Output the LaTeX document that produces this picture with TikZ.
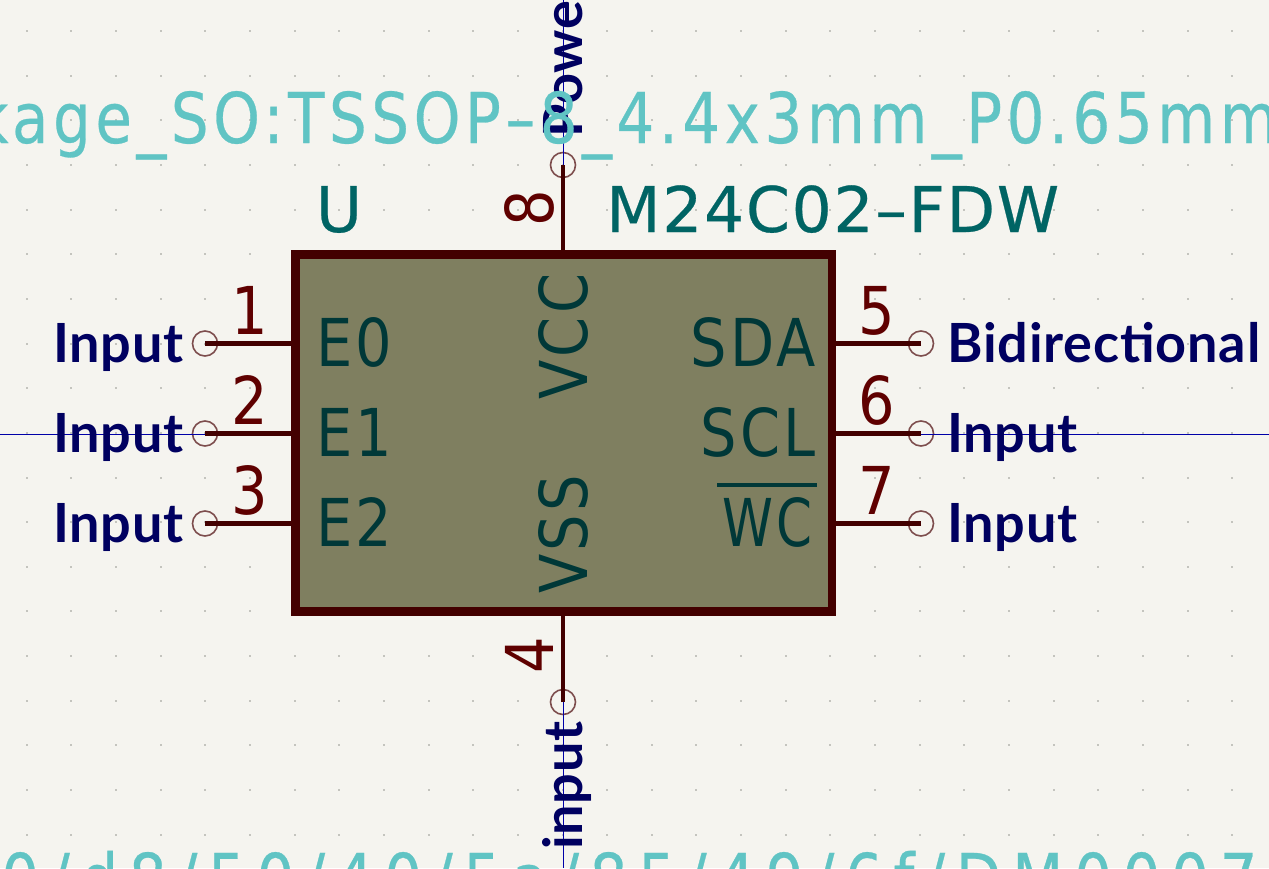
\documentclass[tikz,border=0pt]{standalone}
\usepackage{fontspec}
\setmainfont{DejaVu Sans}
\newfontfamily\pinfont[FakeStretch=0.87]{DejaVu Sans}
\newfontfamily\namefont[FakeStretch=0.87,LetterSpace=5]{DejaVu Sans}
\newfontfamily\barfont[FakeStretch=0.78,LetterSpace=5]{DejaVu Sans}
\newfontfamily\valfont[LetterSpace=2.8,FakeBold=0.4]{DejaVu Sans}
\newfontfamily\fpfont[LetterSpace=6.5,FakeStretch=0.85,FakeBold=0.4]{DejaVu Sans}
\newfontfamily\docfont[LetterSpace=15.2,FakeStretch=0.85,FakeBold=0.4]{DejaVu Sans}
\newfontfamily\netfont[LetterSpace=1.5]{Lato Bold}
\usetikzlibrary{positioning}
\definecolor{sheetbg}{HTML}{F5F4EF}
\definecolor{griddot}{HTML}{C4C4BE}
\definecolor{bodyfill}{HTML}{7F7F60}
\definecolor{bodyline}{HTML}{430000}
\definecolor{pinnum}{HTML}{5F0000}
\definecolor{pinname}{HTML}{003838}
\definecolor{partval}{HTML}{006464}
\definecolor{fptext}{HTML}{60C4C4}
\definecolor{netlabel}{HTML}{000060}
\definecolor{netwire}{HTML}{0000A8}
\definecolor{pinring}{HTML}{7D4D4D}
\tikzset{
  chip/.style={draw=bodyline,fill=bodyfill,line width=8.7pt,outer sep=0pt,minimum width=536.5pt,minimum height=357pt,inner sep=0pt},
  pinend/.style={circle,draw=pinring,line width=1.6pt,outer sep=0pt,minimum size=25pt,inner sep=0pt},
  pinline/.style={draw=bodyline,line width=4.6pt},
  netline/.style={draw=netwire,line width=1.2pt},
  numtext/.style={text=pinnum,inner sep=0pt,font=\pinfont\fontsize{66}{66}\selectfont},
  nametext/.style={text=pinname,inner sep=0pt,font=\namefont\fontsize{66}{66}\selectfont},
  valtext/.style={text=partval,inner sep=0pt,font=\valfont\fontsize{63}{63}\selectfont},
  fptxt/.style={text=fptext,inner sep=0pt,font=\fpfont\fontsize{70}{70}\selectfont},
  nettext/.style={text=netlabel,inner sep=0pt,font=\netfont\fontsize{54}{54}\selectfont},
}
\begin{document}
\begin{tikzpicture}[x=1pt,y=-1pt]
\fill[sheetbg] (0,0) rectangle (1269,868);
\useasboundingbox (0,0) rectangle (1269,868);
\clip (0,0) rectangle (1269,868);
\foreach \i in {0,...,27}
  \foreach \j in {0,...,18}
    \fill[griddot] ({26.7+44.65*\i-1},{31+44.65*\j+1}) rectangle +(2,-2);

\coordinate (wireW) at (0,434.5);
\coordinate (wireE) at (1269,434.5);
\coordinate (wireN) at (563.5,0);
\coordinate (wireS) at (563.5,868);

\node[chip] (chip) at (563.75,433) {};
\node[pinend] (p1) at (205,343.5) {};
\node[pinend] (p2) at (205,433.5) {};
\node[pinend] (p3) at (205,523.5) {};
\node[pinend] (p5) at (921,343.5) {};
\node[pinend] (p6) at (921,433.5) {};
\node[pinend] (p7) at (921,523.5) {};
\node[pinend] (p8) at (563,165) {};
\node[pinend] (p4) at (563,702) {};

\draw[netline] (wireW) -- (wireW -| p2.center);
\draw[netline] (wireE -| p6.center) -- (wireE);
\draw[netline] (wireN) -- (wireN |- p8.center);
\draw[netline] (wireS |- p4.center) -- (wireS);

\draw[pinline] (p1.center) -- (p1.center -| chip.west);
\draw[pinline] (p2.center) -- (p2.center -| chip.west);
\draw[pinline] (p3.center) -- (p3.center -| chip.west);
\draw[pinline] (p5.center) -- (p5.center -| chip.east);
\draw[pinline] (p6.center) -- (p6.center -| chip.east);
\draw[pinline] (p7.center) -- (p7.center -| chip.east);
\draw[pinline] (p8.center) -- (p8.center |- chip.north);
\draw[pinline] (p4.center) -- (p4.center |- chip.south);

\node[numtext,anchor=base] (n1) at (250,334) {1};
\node[numtext,anchor=base] (n2) at (250,424) {2};
\node[numtext,anchor=base] (n3) at (250,514) {3};
\node[numtext,anchor=base] (n5) at (877,334) {5};
\node[numtext,anchor=base] (n6) at (877,424) {6};
\node[numtext,anchor=base] (n7) at (877,514) {7};
\node[numtext,anchor=base,rotate=90] (n8) at (553,208) {8};
\node[numtext,anchor=base,rotate=90] (n4) at (553,655) {4};

\node[nametext,anchor=base west] (e0) at (316,366) {E0};
\node[nametext,anchor=base west] (e1) at (316,456) {E1};
\node[nametext,anchor=base west] (e2) at (316,546) {E2};
\node[nametext,anchor=base east] (sda) at (816,366) {SDA};
\node[nametext,anchor=base east] (scl) at (816,456) {SCL};
\node[nametext,anchor=base east,font=\barfont\fontsize{66}{66}\selectfont] (wc) at (813,546) {WC};
\draw[draw=pinname,line width=4pt] (717,485) -- (817,485);
\node[nametext,anchor=base west,rotate=90] (vcc) at (587,400) {VCC};
\node[nametext,anchor=base west,rotate=90] (vss) at (587,594) {VSS};

\node[nettext,anchor=base east] (l1) at (184,362) {Input};
\node[nettext,anchor=base east] (l2) at (184,452) {Input};
\node[nettext,anchor=base east] (l3) at (184,542) {Input};
\node[nettext,anchor=base west] (l5) at (947,362) {Bidirectional};
\node[nettext,anchor=base west] (l6) at (947,452) {Input};
\node[nettext,anchor=base west] (l7) at (947,542) {Input};
\node[nettext,anchor=base west,rotate=90] (l8) at (582,138) {Power};
\node[nettext,anchor=base west,rotate=90] (l4) at (582,850) {input};

\node[valtext,anchor=base] (ref) at (339,232) {U};
\node[valtext,anchor=base west] (val) at (606,232) {M24C02–FDW};

\node[fptxt,anchor=base east] (fp) at (1278,143) {Package\_SO:TSSOP–8\_4.4x3mm\_P0.65mm};
\node[fptxt,anchor=base west,font=\docfont\fontsize{70}{70}\selectfont] (doc) at (-78,904) {/b0/d8/50/40/5a/85/49/6f/DM00071904};
\end{tikzpicture}
\end{document}
